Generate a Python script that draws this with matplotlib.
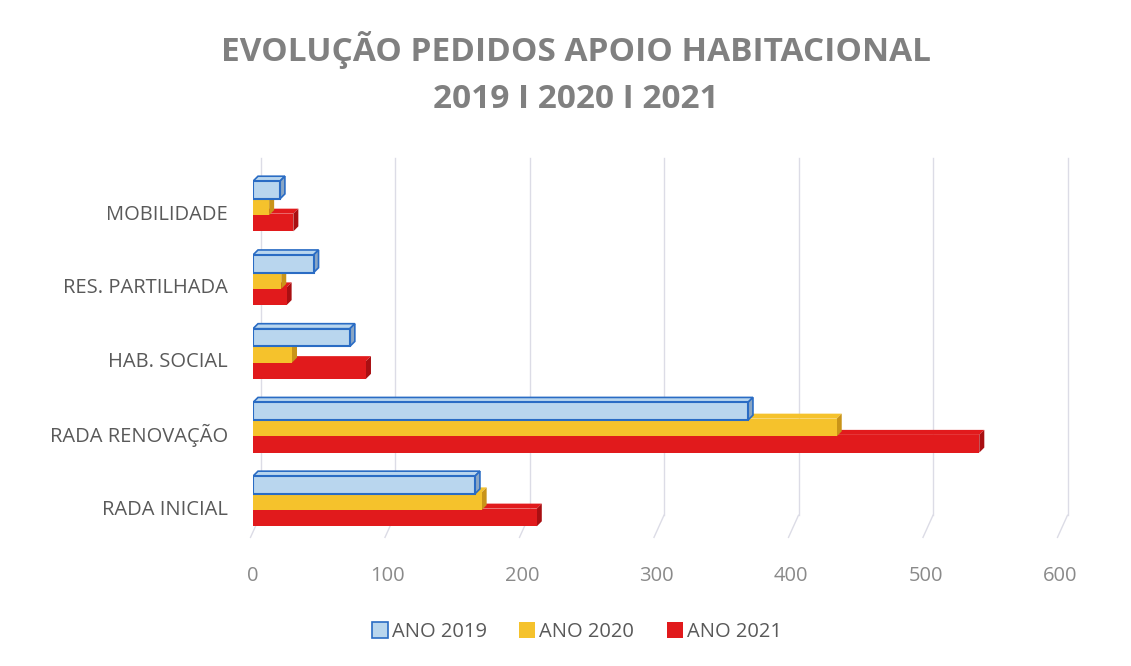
import matplotlib
matplotlib.use("Agg")
import matplotlib.pyplot as plt
from matplotlib.patches import Polygon, Patch
import numpy as np

categories = ["RADA INICIAL", "RADA RENOVAÇÃO", "HAB. SOCIAL", "RES. PARTILHADA", "MOBILIDADE"]
ano_2019 = [165, 368, 72, 45, 20]
ano_2020 = [170, 434, 29, 21, 12]
ano_2021 = [211, 540, 84, 25, 30]
series_names = ["ANO 2019", "ANO 2020", "ANO 2021"]
x_ticks = [0, 100, 200, 300, 400, 500, 600]

W, H = 1131, 666
fig = plt.figure(figsize=(W / 100, H / 100), dpi=100)
fig.patch.set_facecolor("white")
ax_l, ax_b, ax_w, ax_h = 253 / W, 1 - 530 / H, 807 / W, 365 / H
ax = fig.add_axes([ax_l, ax_b, ax_w, ax_h])
ax.set_facecolor("none")

ymin, ymax = -0.31, 4.64
ax.set_xlim(0, 600)
ax.set_ylim(ymin, ymax)

# depth of 3D effect in pixels -> data units
d_px = 5
dx = d_px * 600 / 807
dy = d_px * (ymax - ymin) / 365

styles = [
    dict(face="#b9d6ee", edge="#2a6cc4", side="#8aa6c4", off=0.30),
    dict(face="#f5c22c", edge="#f5c22c", side="#c99418", off=0.08),
    dict(face="#e11a1c", edge="#e11a1c", side="#a90f12", off=-0.14),
]
vals = [ano_2019, ano_2020, ano_2021]
hgt = 0.24
ypos = np.arange(len(categories))

# gridlines
for t in x_ticks:
    ax.plot([t + 1.5 * dx, t + 1.5 * dx], [ymin + 0.2, ymax + 0.1], color="#dcdce6", lw=1,
            zorder=0, clip_on=False)
    ax.plot([t - 0.5 * dx, t + 1.5 * dx], [ymin - 0.1, ymin + 0.2], color="#dcdce6", lw=1,
            zorder=0, clip_on=False)

# draw back to front: red, yellow, blue
for si in [2, 1, 0]:
    st = styles[si]
    z = 3 + (2 - si) * 2
    for yi, v in zip(ypos, vals[si]):
        yc = yi + st["off"]
        y0, y1 = yc - hgt / 2, yc + hgt / 2
        top = Polygon([(0, y1), (v, y1), (v + dx, y1 + dy), (dx, y1 + dy)], closed=True,
                      facecolor=st["face"], edgecolor=st["edge"], lw=1.2 if si == 0 else 0, zorder=z)
        ax.add_patch(top)
        side = Polygon([(v, y0), (v + dx, y0 + dy), (v + dx, y1 + dy), (v, y1)], closed=True,
                       facecolor=st["side"], edgecolor=st["edge"], lw=1.2 if si == 0 else 0, zorder=z)
        ax.add_patch(side)
    ax.barh(ypos + st["off"], vals[si], height=hgt, color=st["face"],
            edgecolor=st["edge"], linewidth=1.5 if si == 0 else 0, zorder=z + 1)

ax.set_yticks(ypos)
ax.set_yticklabels(categories, fontsize=14.5, color="#595959", family="Open Sans")
ax.set_xticks(x_ticks)
ax.set_xticklabels([str(t) for t in x_ticks], fontsize=14.5, color="#8a8a8a", family="Open Sans")
ax.tick_params(axis="both", length=0)
ax.tick_params(axis="y", pad=18)
ax.tick_params(axis="x", pad=26)
for s in ax.spines.values():
    s.set_visible(False)

fig.text(0.509, 1 - 50 / H, "EVOLUÇÃO PEDIDOS APOIO HABITACIONAL", ha="center", va="center",
         fontsize=24, fontweight="bold", color="#808080", family="Open Sans")
fig.text(0.509, 1 - 100 / H, "2019 I 2020 I 2021", ha="center", va="center",
         fontsize=24, fontweight="bold", color="#808080", family="Open Sans")

handles = [Patch(facecolor=styles[i]["face"], edgecolor=styles[i]["edge"], lw=1.2 if i == 0 else 0)
           for i in range(3)]
leg = fig.legend(handles, series_names, loc="center", bbox_to_anchor=(0.51, 1 - 632 / H), ncol=3,
                 frameon=False, handlelength=0.8, handleheight=0.8,
                 handletextpad=0.2, columnspacing=1.6, prop={"family": "Open Sans", "size": 14.5})
for t in leg.get_texts():
    t.set_color("#595959")

fig.savefig("out.png", dpi=100)
